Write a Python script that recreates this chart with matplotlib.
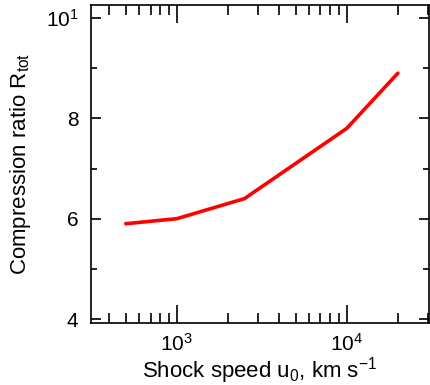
import numpy as np
import matplotlib
matplotlib.use("Agg")
import matplotlib.pyplot as plt
from matplotlib.ticker import FixedLocator, FixedFormatter, LogLocator, NullFormatter

# shock speed (km/s) and total compression ratio
speed = [500, 1000, 2500, 10000, 20000]
ratio = [5.9, 6.0, 6.4, 7.8, 8.9]

y_major = [4, 6, 8, 10]
y_major_labels = ["4", "6", "8", r"$10^1$"]
y_minor = [5, 7, 9]

plt.rcParams['font.family'] = ['Liberation Sans', 'DejaVu Sans']
plt.rcParams['mathtext.fontset'] = 'custom'
plt.rcParams['mathtext.rm'] = 'Liberation Sans'
plt.rcParams['mathtext.it'] = 'Liberation Sans'
plt.rcParams['mathtext.default'] = 'regular'

fig = plt.figure(figsize=(4.30, 3.85), dpi=100)
ax = fig.add_axes([0.2116, 0.161, 0.786, 0.826])

ax.plot(speed, ratio, color='#ff0000', lw=2.6, solid_capstyle='round')

ax.set_xscale('log')
ax.set_xlim(312, 30500)
ax.set_ylim(3.92, 10.26)

ax.xaxis.set_major_locator(LogLocator(base=10, numticks=10))
ax.xaxis.set_minor_locator(LogLocator(base=10, subs=np.arange(2, 10), numticks=10))
ax.xaxis.set_minor_formatter(NullFormatter())

ax.yaxis.set_major_locator(FixedLocator(y_major))
ax.yaxis.set_major_formatter(FixedFormatter(y_major_labels))
ax.yaxis.set_minor_locator(FixedLocator(y_minor))

ax.tick_params(axis='both', which='both', direction='in', top=True, right=True,
               colors='black', labelsize=15)
ax.tick_params(axis='x', which='major', length=13, width=1.2, pad=7)
ax.tick_params(axis='x', which='minor', length=7, width=1.2)
ax.tick_params(axis='y', which='major', length=7, width=1.2, pad=9)
ax.tick_params(axis='y', which='minor', length=4, width=1.2)

for sp in ax.spines.values():
    sp.set_linewidth(1.2)

ax.set_xlabel(r"Shock speed u$_0$, km s$^{-1}$", fontsize=16, labelpad=0)
ax.set_ylabel(r"Compression ratio R$_{\rm tot}$", fontsize=16, labelpad=9)

fig.savefig("out.png", dpi=100)
